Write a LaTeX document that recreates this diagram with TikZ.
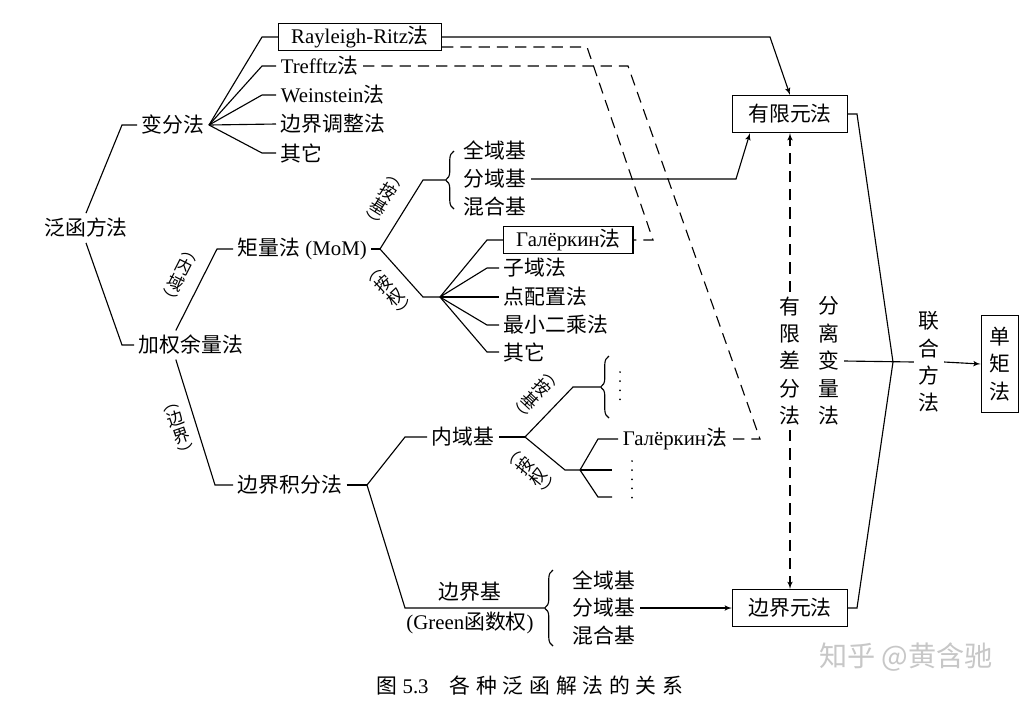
\documentclass[tikz,border=0pt]{standalone}
\usepackage{fontspec}
\setmainfont{Liberation Serif}
\newfontfamily\cjk{Noto Sans CJK SC}
\newfontfamily\cjkcap{Noto Sans CJK SC}[LetterSpace=28]
\newcommand{\zh}[1]{{\cjk #1}}
\usetikzlibrary{arrows,positioning,decorations.pathreplacing}

\begin{document}
\begin{tikzpicture}[x=0.025cm, y=-0.025cm, thick, font=\fontsize{14.8}{17}\selectfont]
        \tikzstyle{txt} = [inner sep=3pt, anchor=west]
        \tikzstyle{box} = [draw, rectangle, inner xsep=9pt, inner ysep=2pt, anchor=west]
        \tikzstyle{big} = [draw, rectangle, minimum width=2.875cm, minimum height=0.925cm]
        \tikzstyle{vtxt} = [align=center, font=\cjk\fontsize{14.8}{19.5}\selectfont, inner sep=3pt]
        \tikzstyle{vlab} = [align=center, font=\cjk\fontsize{12}{12.5}\selectfont, inner sep=0pt]
        \tikzstyle{line} = [draw, -latex']
        \tikzstyle{dline} = [draw, dash pattern=on 8pt off 5pt]
        \tikzstyle{brc} = [draw, decorate, decoration={brace, amplitude=6pt}]
        \tikzstyle{dots} = [draw, line width=1.4pt, line cap=round, dash pattern=on 0pt off 6.5pt]

        \path [use as bounding box, fill=white] (0,0) rectangle (1020,700);

        \node (fh) at (86,228) {\zh{泛函方法}};
        \node [txt] (bf) at (137,125) {\zh{变分法}};
        \node [txt] (jq) at (134,345) {\zh{加权余量法}};
        \draw (fh.north) -- (122,125) -- (bf.west);
        \draw (fh.south) -- (122,345) -- (jq.west);

        % variational methods
        \node [box] (rr) at (278,37) {Rayleigh-Ritz\zh{法}};
        \node [txt] (tf) at (276,66) {Trefftz\zh{法}};
        \node [txt] (ws) at (276,95) {Weinstein\zh{法}};
        \node [txt] (bt) at (276,124) {\zh{边界调整法}};
        \node [txt] (qt1) at (276,153) {\zh{其它}};
        \draw (bf.east) -- (262,37) -- (rr.west);
        \draw (bf.east) -- (262,66) -- (tf.west);
        \draw (bf.east) -- (262,95) -- (ws.west);
        \draw (bf.east) -- (bt.west);
        \draw (bf.east) -- (262,153) -- (qt1.west);

        % weighted residuals
        \node [txt] (jl) at (233,249) {\zh{矩量法} (MoM)};
        \node [txt] (bj) at (233,485) {\zh{边界积分法}};
        \draw ([xshift=-0.375cm]jq.north) -- (217,249) -- (jl.west);
        \draw ([xshift=-0.375cm]jq.south) -- (215,485) -- (bj.west);
        \node [vlab, rotate=-27] (nyl) at (178,279) {︵\\内\\域\\︶};
        \node [vlab, rotate=19] (bjl) at (180,432) {︵\\边\\界\\︶};

        % moment method
        \coordinate (j1) at (380,249);
        \coordinate (b1) at (445,180);
        \coordinate (f1) at (440,297);
        \draw (jl.east) -- (j1);
        \draw (j1) -- (423,180) -- (b1);
        \draw (j1) -- (423,297) -- (f1);
        \draw [brc] (454,209) -- (454,151);
        \node [vlab, rotate=-32] (ajl1) at (381,203) {︵\\按\\基\\︶};
        \node [vlab, rotate=43] (aql1) at (393,294) {︵\\按\\权\\︶};
        \node [txt] (qy1) at (459,150) {\zh{全域基}};
        \node [txt] (fy1) at (459,179) {\zh{分域基}};
        \node [txt] (hh1) at (459,207) {\zh{混合基}};

        \node [box] (gl1) at (503,240) {Галёркин\zh{法}};
        \node [txt] (zy) at (499,268) {\zh{子域法}};
        \node [txt] (dp) at (499,297) {\zh{点配置法}};
        \node [txt] (zx) at (499,325) {\zh{最小二乘法}};
        \node [txt] (qt2) at (499,352) {\zh{其它}};
        \draw (f1) -- (487,240) -- (gl1.west);
        \draw (f1) -- (487,268) -- (zy.west);
        \draw (f1) -- (dp.west);
        \draw (f1) -- (487,325) -- (zx.west);
        \draw (f1) -- (487,352) -- (qt2.west);

        % boundary integral
        \coordinate (j2) at (367,485);
        \draw (bj.east) -- (j2);
        \node [txt] (ny) at (427,437) {\zh{内域基}};
        \draw (j2) -- (405,437) -- (ny.west);
        \coordinate (j3) at (525,437);
        \coordinate (b2) at (600,387);
        \coordinate (f2) at (580,470);
        \coordinate (e1) at (612,470);
        \coordinate (e2) at (612,497);
        \draw (ny.east) -- (j3);
        \draw (j3) -- (573,387) -- (b2);
        \draw (j3) -- (565,470) -- (f2);
        \draw [brc] (609,418) -- (609,356);
        \path [dots] (620,372) -- (620,408);
        \node [vlab, rotate=-43] (ajl2) at (533,398) {︵\\按\\基\\︶};
        \node [vlab, rotate=51] (aql2) at (535,474) {︵\\按\\权\\︶};
        \node [txt] (gl2) at (618,439) {Галёркин\zh{法}};
        \draw (f2) -- (598,439) -- (gl2.west);
        \draw (f2) -- (e1);
        \draw (f2) -- (598,497) -- (e2);
        \path [dots] (632,461) -- (632,498);

        \coordinate (b3) at (544,608);
        \draw (j2) -- (405,608) -- (b3);
        \node (bjb) at (470,592) {\zh{边界基}};
        \node (gre) at (470,623) {(Green\zh{函数权})};
        \draw [brc] (553,646) -- (553,570);
        \node [txt] (qy3) at (568,580) {\zh{全域基}};
        \node [txt] (fy3) at (568,608) {\zh{分域基}};
        \node [txt] (hh3) at (568,636) {\zh{混合基}};

        % numerical methods
        \node [big] (fem) at (790,114) {\zh{有限元法}};
        \node [big] (bem) at (790,608) {\zh{边界元法}};
        \node [vtxt] (fdm) at (790,361) {有\\限\\差\\分\\法};
        \node [vtxt] (sep) at (829,361) {分\\离\\变\\量\\法};
        \node [vtxt] (lh) at (929,362) {联\\合\\方\\法};
        \node [draw, vtxt, inner xsep=6pt, inner ysep=8pt] (dj) at (1000,364) {单\\矩\\法};

        \path [line] (rr.east) -- (770,37) -- (fem.north);
        \path [line] (fy1.east) -- (736,179) -- ([xshift=-1cm]fem.south);
        \path [line] (fy3.east) -- (bem.west);
        \path [line, dline] (fdm.north) -- (fem.south);
        \path [line, dline] (fdm.south) -- (bem.north);

        \coordinate (jn) at (893,362);
        \draw (fem.east) -- (857,114) -- (jn);
        \draw (bem.east) -- (857,608) -- (jn);
        \draw (sep.east) -- (lh.west);
        \path [line] (lh.east) -- (dj.west);

        % Galerkin links
        \path [dline] ([yshift=-0.25cm]rr.east) -- (587,47) -- (653,240) -- (gl1.east);
        \path [dline] (tf.east) -- (628,66) -- (760,439) -- (gl2.east);

        \node (cap) at (530,686) {\zh{图} 5.3\quad{\cjkcap 各种泛函解法的关系}};
        \node [text=black!22] (wm) at (906,657) {\cjk\fontsize{20}{22}\selectfont 知乎 @黄含驰};
    \end{tikzpicture}
\end{document}
